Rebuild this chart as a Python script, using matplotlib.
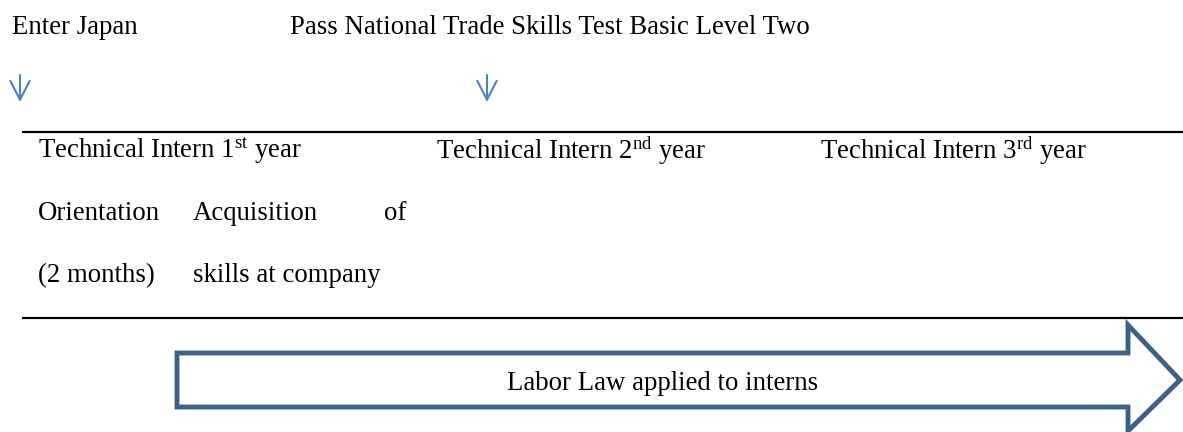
import matplotlib
matplotlib.use("Agg")
import matplotlib.pyplot as plt
from matplotlib.patches import Polygon

plt.rcParams['font.family'] = ['Liberation Serif', 'DejaVu Serif']
plt.rcParams['mathtext.fontset'] = 'custom'
plt.rcParams['mathtext.rm'] = 'Liberation Serif'
plt.rcParams['mathtext.it'] = 'Liberation Serif:italic'

# ---- content ----
milestones = ["Enter Japan", "Pass National Trade Skills Test Basic Level Two"]
year_labels = [r"Technical Intern 1$^{\mathrm{st}}$ year",
               r"Technical Intern 2$^{\mathrm{nd}}$ year",
               r"Technical Intern 3$^{\mathrm{rd}}$ year"]
phase_row1 = ["Orientation", "Acquisition", "of"]
phase_row2 = ["(2 months)", "skills at company"]
arrow_label = "Labor Law applied to interns"

W, H = 1183, 432
fig = plt.figure(figsize=(W / 100, H / 100), dpi=100)
ax = fig.add_axes([0, 0, 1, 1])
ax.set_xlim(0, W)
ax.set_ylim(H, 0)
ax.axis('off')

fs = 19.3
blue = '#4f81bd'
dark_blue = '#3c6189'

# milestone labels
for txt, x in zip(milestones, [12, 290]):
    ax.text(x, 28, txt, fontsize=fs, va='center', ha='left', color='black')

# small down arrows
for x in [20, 487]:
    ax.annotate('', xy=(x, 102), xytext=(x, 75),
                arrowprops=dict(arrowstyle='->,head_length=0.68,head_width=0.35',
                                color=blue, lw=1.5,
                                mutation_scale=20, shrinkA=0, shrinkB=0))

# horizontal rules
ax.plot([22, W], [131.5, 131.5], color='black', lw=1.6, solid_capstyle='butt')
ax.plot([22, W], [318, 318], color='black', lw=1.6, solid_capstyle='butt')

# year labels
for txt, x in zip(year_labels, [38, 436, 820]):
    ax.text(x, 151, txt, fontsize=fs, va='center', ha='left')

# phase rows
for txt, x in zip(phase_row1, [38, 193, 384]):
    ax.text(x, 214, txt, fontsize=fs, va='center', ha='left')
for txt, x in zip(phase_row2, [38, 193]):
    ax.text(x, 276, txt, fontsize=fs, va='center', ha='left')

# big block arrow
pts = [(177, 353), (1128, 353), (1128, 325), (1180, 380),
       (1128, 431), (1128, 407), (177, 407)]
ax.add_patch(Polygon(pts, closed=True, facecolor='white',
                     edgecolor=dark_blue, lw=3.5, joinstyle='miter'))
ax.text(663, 383, arrow_label, fontsize=fs, va='center', ha='center')

fig.savefig('out.png', dpi=100)
